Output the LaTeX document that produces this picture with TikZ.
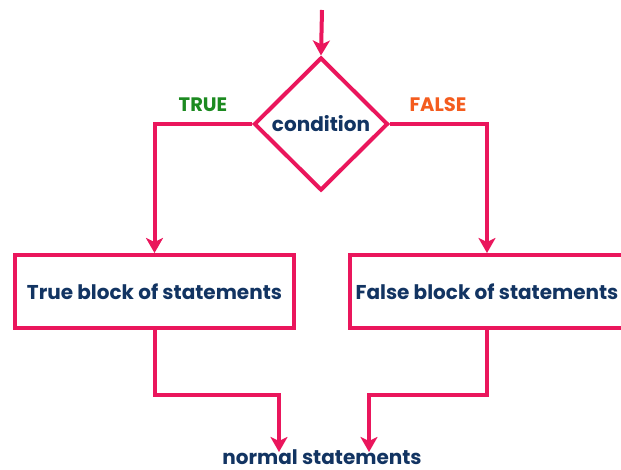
\documentclass[tikz,border=0pt]{standalone}
\usepackage{fontspec}
\setmainfont{Poppins}
\usetikzlibrary{shapes.geometric,arrows.meta,calc}
\definecolor{flowline}{RGB}{234,22,92}
\definecolor{navytext}{RGB}{18,52,98}
\definecolor{truegreen}{RGB}{28,138,32}
\definecolor{falseorange}{RGB}{244,92,30}
\tikzset{
  flow/.style={draw=flowline, line width=4pt},
  flowarrow/.style={flow, -{Stealth[length=15pt,width=17pt,inset=4pt]}},
  stmt/.style={font=\bfseries\fontsize{20}{24}\selectfont, text=navytext},
  blockbox/.style={flow, rectangle, fill=white, inner sep=0pt, minimum height=73pt, stmt},
  decision/.style={flow, diamond, fill=white, inner sep=0pt, minimum width=134pt, minimum height=133pt, stmt},
  branchlabel/.style={font=\bfseries\fontsize{19.5}{22}\selectfont},
}
\begin{document}
\begin{tikzpicture}[x=1pt, y=-1pt]
  \useasboundingbox (0,0) rectangle (621,470);
  \clip (0,0) rectangle (621,470);
  \fill[white] (0,0) rectangle (621,470);

  % nodes
  \node[decision] (cond) at (321,124) {condition};
  \node[blockbox, minimum width=279pt] (tbox) at (154.5,291.5) {True block of statements};
  \node[blockbox, minimum width=274pt] (fbox) at (487,291.5) {False block of statements};
  \node[stmt, anchor=base, inner sep=0pt] (normal) at (322,464) {normal statements};
  \node[branchlabel, text=truegreen] (tlabel) at (203,105) {TRUE};
  \node[branchlabel, text=falseorange] (flabel) at (438,105) {FALSE};

  % free ends of the connectors
  \coordinate (entry) at (322,10);
  \coordinate (tend) at (279,452);
  \coordinate (fend) at (369,452);

  % connectors
  \draw[flowarrow] (entry) -- (cond.north);
  \draw[flowarrow] (cond.west) -| (tbox.north);
  \draw[flowarrow] (cond.east) -| (fbox.north);
  \draw[flowarrow] (tbox.south) -- ++(0,65) -| (tend);
  \draw[flowarrow] (fbox.south) -- ++(0,65) -| (fend);
\end{tikzpicture}
\end{document}
